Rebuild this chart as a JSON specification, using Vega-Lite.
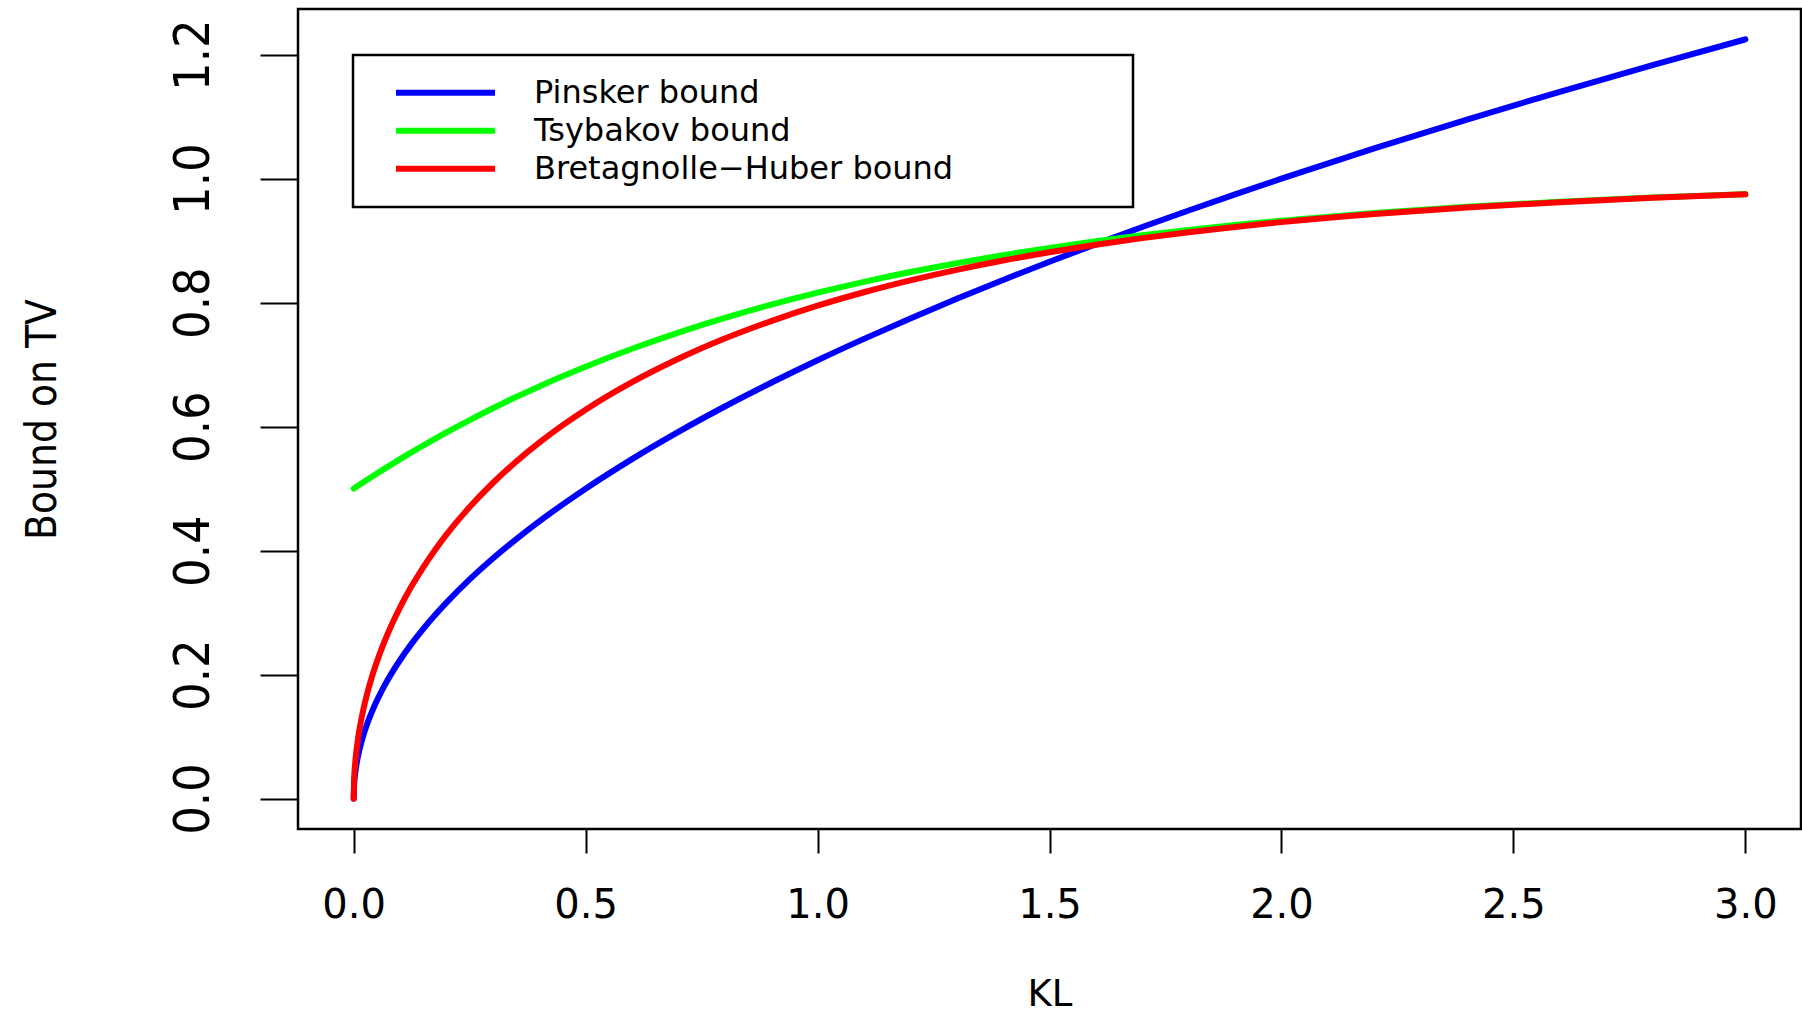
{
  "$schema": "https://vega.github.io/schema/vega-lite/v6.json",
  "width": 1503,
  "height": 820,
  "autosize": {"type": "none"},
  "padding": {"left": 298, "top": 9, "right": 1, "bottom": 186},
  "background": "white",
  "data": {"values": [
    {"KL":0,"bound":"Pinsker bound","value":0},
    {"KL":0.001,"bound":"Pinsker bound","value":0.0224},
    {"KL":0.003,"bound":"Pinsker bound","value":0.0387},
    {"KL":0.006,"bound":"Pinsker bound","value":0.0548},
    {"KL":0.01,"bound":"Pinsker bound","value":0.0707},
    {"KL":0.015,"bound":"Pinsker bound","value":0.0866},
    {"KL":0.02,"bound":"Pinsker bound","value":0.1},
    {"KL":0.03,"bound":"Pinsker bound","value":0.1225},
    {"KL":0.04,"bound":"Pinsker bound","value":0.1414},
    {"KL":0.05,"bound":"Pinsker bound","value":0.1581},
    {"KL":0.065,"bound":"Pinsker bound","value":0.1803},
    {"KL":0.08,"bound":"Pinsker bound","value":0.2},
    {"KL":0.1,"bound":"Pinsker bound","value":0.2236},
    {"KL":0.125,"bound":"Pinsker bound","value":0.25},
    {"KL":0.15,"bound":"Pinsker bound","value":0.2739},
    {"KL":0.175,"bound":"Pinsker bound","value":0.2958},
    {"KL":0.2,"bound":"Pinsker bound","value":0.3162},
    {"KL":0.25,"bound":"Pinsker bound","value":0.3536},
    {"KL":0.3,"bound":"Pinsker bound","value":0.3873},
    {"KL":0.35,"bound":"Pinsker bound","value":0.4183},
    {"KL":0.4,"bound":"Pinsker bound","value":0.4472},
    {"KL":0.45,"bound":"Pinsker bound","value":0.4743},
    {"KL":0.5,"bound":"Pinsker bound","value":0.5},
    {"KL":0.6,"bound":"Pinsker bound","value":0.5477},
    {"KL":0.7,"bound":"Pinsker bound","value":0.5916},
    {"KL":0.8,"bound":"Pinsker bound","value":0.6325},
    {"KL":0.9,"bound":"Pinsker bound","value":0.6708},
    {"KL":1.0,"bound":"Pinsker bound","value":0.7071},
    {"KL":1.1,"bound":"Pinsker bound","value":0.7416},
    {"KL":1.2,"bound":"Pinsker bound","value":0.7746},
    {"KL":1.3,"bound":"Pinsker bound","value":0.8062},
    {"KL":1.4,"bound":"Pinsker bound","value":0.8367},
    {"KL":1.5,"bound":"Pinsker bound","value":0.866},
    {"KL":1.6,"bound":"Pinsker bound","value":0.8944},
    {"KL":1.7,"bound":"Pinsker bound","value":0.922},
    {"KL":1.8,"bound":"Pinsker bound","value":0.9487},
    {"KL":1.9,"bound":"Pinsker bound","value":0.9747},
    {"KL":2.0,"bound":"Pinsker bound","value":1.0},
    {"KL":2.2,"bound":"Pinsker bound","value":1.0488},
    {"KL":2.4,"bound":"Pinsker bound","value":1.0954},
    {"KL":2.6,"bound":"Pinsker bound","value":1.1402},
    {"KL":2.8,"bound":"Pinsker bound","value":1.1832},
    {"KL":3.0,"bound":"Pinsker bound","value":1.2247},
    {"KL":0,"bound":"Tsybakov bound","value":0.5},
    {"KL":0.001,"bound":"Tsybakov bound","value":0.5005},
    {"KL":0.003,"bound":"Tsybakov bound","value":0.5015},
    {"KL":0.006,"bound":"Tsybakov bound","value":0.503},
    {"KL":0.01,"bound":"Tsybakov bound","value":0.505},
    {"KL":0.015,"bound":"Tsybakov bound","value":0.5074},
    {"KL":0.02,"bound":"Tsybakov bound","value":0.5099},
    {"KL":0.03,"bound":"Tsybakov bound","value":0.5148},
    {"KL":0.04,"bound":"Tsybakov bound","value":0.5196},
    {"KL":0.05,"bound":"Tsybakov bound","value":0.5244},
    {"KL":0.065,"bound":"Tsybakov bound","value":0.5315},
    {"KL":0.08,"bound":"Tsybakov bound","value":0.5384},
    {"KL":0.1,"bound":"Tsybakov bound","value":0.5476},
    {"KL":0.125,"bound":"Tsybakov bound","value":0.5588},
    {"KL":0.15,"bound":"Tsybakov bound","value":0.5696},
    {"KL":0.175,"bound":"Tsybakov bound","value":0.5803},
    {"KL":0.2,"bound":"Tsybakov bound","value":0.5906},
    {"KL":0.25,"bound":"Tsybakov bound","value":0.6106},
    {"KL":0.3,"bound":"Tsybakov bound","value":0.6296},
    {"KL":0.35,"bound":"Tsybakov bound","value":0.6477},
    {"KL":0.4,"bound":"Tsybakov bound","value":0.6648},
    {"KL":0.45,"bound":"Tsybakov bound","value":0.6812},
    {"KL":0.5,"bound":"Tsybakov bound","value":0.6967},
    {"KL":0.6,"bound":"Tsybakov bound","value":0.7256},
    {"KL":0.7,"bound":"Tsybakov bound","value":0.7517},
    {"KL":0.8,"bound":"Tsybakov bound","value":0.7753},
    {"KL":0.9,"bound":"Tsybakov bound","value":0.7967},
    {"KL":1.0,"bound":"Tsybakov bound","value":0.8161},
    {"KL":1.1,"bound":"Tsybakov bound","value":0.8336},
    {"KL":1.2,"bound":"Tsybakov bound","value":0.8494},
    {"KL":1.3,"bound":"Tsybakov bound","value":0.8637},
    {"KL":1.4,"bound":"Tsybakov bound","value":0.8767},
    {"KL":1.5,"bound":"Tsybakov bound","value":0.8884},
    {"KL":1.6,"bound":"Tsybakov bound","value":0.8991},
    {"KL":1.7,"bound":"Tsybakov bound","value":0.9087},
    {"KL":1.8,"bound":"Tsybakov bound","value":0.9174},
    {"KL":1.9,"bound":"Tsybakov bound","value":0.9252},
    {"KL":2.0,"bound":"Tsybakov bound","value":0.9323},
    {"KL":2.2,"bound":"Tsybakov bound","value":0.9446},
    {"KL":2.4,"bound":"Tsybakov bound","value":0.9546},
    {"KL":2.6,"bound":"Tsybakov bound","value":0.9629},
    {"KL":2.8,"bound":"Tsybakov bound","value":0.9696},
    {"KL":3.0,"bound":"Tsybakov bound","value":0.9751},
    {"KL":0,"bound":"Bretagnolle−Huber bound","value":0},
    {"KL":0.001,"bound":"Bretagnolle−Huber bound","value":0.0316},
    {"KL":0.003,"bound":"Bretagnolle−Huber bound","value":0.0547},
    {"KL":0.006,"bound":"Bretagnolle−Huber bound","value":0.0773},
    {"KL":0.01,"bound":"Bretagnolle−Huber bound","value":0.0998},
    {"KL":0.015,"bound":"Bretagnolle−Huber bound","value":0.122},
    {"KL":0.02,"bound":"Bretagnolle−Huber bound","value":0.1407},
    {"KL":0.03,"bound":"Bretagnolle−Huber bound","value":0.1719},
    {"KL":0.04,"bound":"Bretagnolle−Huber bound","value":0.198},
    {"KL":0.05,"bound":"Bretagnolle−Huber bound","value":0.2208},
    {"KL":0.065,"bound":"Bretagnolle−Huber bound","value":0.2509},
    {"KL":0.08,"bound":"Bretagnolle−Huber bound","value":0.2773},
    {"KL":0.1,"bound":"Bretagnolle−Huber bound","value":0.3085},
    {"KL":0.125,"bound":"Bretagnolle−Huber bound","value":0.3428},
    {"KL":0.15,"bound":"Bretagnolle−Huber bound","value":0.3732},
    {"KL":0.175,"bound":"Bretagnolle−Huber bound","value":0.4007},
    {"KL":0.2,"bound":"Bretagnolle−Huber bound","value":0.4258},
    {"KL":0.25,"bound":"Bretagnolle−Huber bound","value":0.4703},
    {"KL":0.3,"bound":"Bretagnolle−Huber bound","value":0.5091},
    {"KL":0.35,"bound":"Bretagnolle−Huber bound","value":0.5434},
    {"KL":0.4,"bound":"Bretagnolle−Huber bound","value":0.5742},
    {"KL":0.45,"bound":"Bretagnolle−Huber bound","value":0.602},
    {"KL":0.5,"bound":"Bretagnolle−Huber bound","value":0.6273},
    {"KL":0.6,"bound":"Bretagnolle−Huber bound","value":0.6717},
    {"KL":0.7,"bound":"Bretagnolle−Huber bound","value":0.7095},
    {"KL":0.8,"bound":"Bretagnolle−Huber bound","value":0.7421},
    {"KL":0.9,"bound":"Bretagnolle−Huber bound","value":0.7703},
    {"KL":1.0,"bound":"Bretagnolle−Huber bound","value":0.7951},
    {"KL":1.1,"bound":"Bretagnolle−Huber bound","value":0.8168},
    {"KL":1.2,"bound":"Bretagnolle−Huber bound","value":0.8359},
    {"KL":1.3,"bound":"Bretagnolle−Huber bound","value":0.8529},
    {"KL":1.4,"bound":"Bretagnolle−Huber bound","value":0.868},
    {"KL":1.5,"bound":"Bretagnolle−Huber bound","value":0.8814},
    {"KL":1.6,"bound":"Bretagnolle−Huber bound","value":0.8934},
    {"KL":1.7,"bound":"Bretagnolle−Huber bound","value":0.9041},
    {"KL":1.8,"bound":"Bretagnolle−Huber bound","value":0.9136},
    {"KL":1.9,"bound":"Bretagnolle−Huber bound","value":0.9222},
    {"KL":2.0,"bound":"Bretagnolle−Huber bound","value":0.9299},
    {"KL":2.2,"bound":"Bretagnolle−Huber bound","value":0.943},
    {"KL":2.4,"bound":"Bretagnolle−Huber bound","value":0.9536},
    {"KL":2.6,"bound":"Bretagnolle−Huber bound","value":0.9621},
    {"KL":2.8,"bound":"Bretagnolle−Huber bound","value":0.9691},
    {"KL":3.0,"bound":"Bretagnolle−Huber bound","value":0.9748}
  ]},
  "mark": {"type": "line", "strokeWidth": 6, "strokeCap": "round", "strokeJoin": "round", "interpolate": "monotone"},
  "encoding": {
    "x": {
      "field": "KL", "type": "quantitative",
      "scale": {"domain": [-0.12, 3.12], "nice": false, "zero": false},
      "axis": {
        "title": "KL",
        "values": [0, 0.5, 1, 1.5, 2, 2.5, 3],
        "format": ".1f",
        "tickSize": 24, "tickWidth": 2, "tickColor": "black",
        "labelPadding": 32.6,
        "labelFont": "DejaVu Sans", "labelFontSize": 40, "labelColor": "black",
        "labelFlush": false, "labelOverlap": false,
        "titleFont": "DejaVu Sans", "titleFontSize": 37, "titleFontWeight": "normal", "titleColor": "black",
        "titlePadding": 51
      }
    },
    "y": {
      "field": "value", "type": "quantitative",
      "scale": {"domain": [-0.049, 1.2737], "nice": false, "zero": false},
      "axis": {
        "title": "Bound on TV",
        "values": [0, 0.2, 0.4, 0.6, 0.8, 1, 1.2],
        "format": ".1f",
        "tickSize": 38, "tickWidth": 2, "tickColor": "black",
        "labelAngle": 270, "labelAlign": "center", "labelBaseline": "alphabetic",
        "labelPadding": 52,
        "labelFont": "Liberation Sans Narrow, DejaVu Sans Condensed, Liberation Sans", "labelFontSize": 50, "labelColor": "black",
        "labelFlush": false, "labelOverlap": false,
        "titleFont": "Liberation Sans Narrow, DejaVu Sans Condensed, Liberation Sans", "titleFontSize": 42, "titleFontWeight": "normal", "titleColor": "black",
        "titlePadding": 104
      }
    },
    "color": {
      "field": "bound", "type": "nominal",
      "scale": {
        "domain": ["Pinsker bound", "Tsybakov bound", "Bretagnolle−Huber bound"],
        "range": ["#0000ff", "#00ff00", "#ff0000"]
      },
      "legend": {
        "title": null,
        "orient": "none", "legendX": 55, "legendY": 46,
        "direction": "vertical",
        "symbolType": "stroke", "symbolSize": 9801, "symbolStrokeWidth": 6,
        "symbolOffset": 21, "padding": 19, "labelOffset": 36,
        "labelFont": "DejaVu Sans", "labelFontSize": 32, "labelColor": "black",
        "rowPadding": -4, "clipHeight": 37.7,
        "strokeColor": "black", "fillColor": "white",
        "labelLimit": 1000,
        "labelExpr": "datum.label + '\u2002\u2002\u2002\u2002\u2002\u2002\u2002\u2002\u2002\u2002\u200b'"
      }
    }
  },
  "config": {
    "view": {"stroke": "black", "strokeWidth": 2.5},
    "axis": {"grid": false, "domain": false},
    "legend": {"strokeWidth": 2.5}
  }
}
